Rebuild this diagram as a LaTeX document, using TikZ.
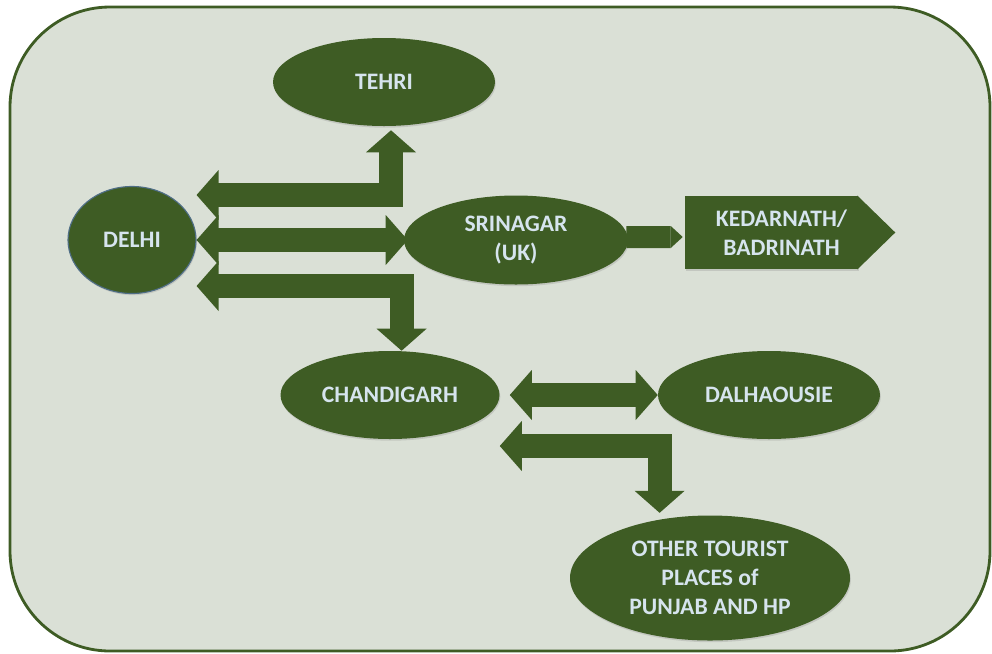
\documentclass[tikz,border=0pt]{standalone}
\usepackage{fontspec}
\setmainfont{Carlito}
\usetikzlibrary{arrows.meta,calc,shapes.geometric,shadows}
\definecolor{leaf}{HTML}{3E5C24}
\definecolor{paper}{HTML}{DAE0D6}
\definecolor{ink}{HTML}{D6E4EE}
\definecolor{rim}{HTML}{4F6E86}
\tikzset{
  label font/.style={font=\bfseries\fontsize{16.8}{20.6}\selectfont},
  place/.style={ellipse, fill=leaf, text=ink, label font, align=center, inner sep=0pt,
    drop shadow={opacity=0.25, shadow xshift=0.6pt, shadow yshift=-1.2pt}},
  link/.style={draw=leaf, line width=0.6cm, line join=miter,
    postaction={draw=leaf, line width=0.6cm, arrows=-, shorten <=0.5cm, shorten >=0.5cm}},
  >={Triangle[width=1.25cm,length=0.55cm,line width=0pt]},
}
\begin{document}
\begin{tikzpicture}
    \useasboundingbox (0,0) rectangle (24.8,-16.325);
    \draw[draw=leaf, line width=2pt, fill=paper, rounded corners=2.5cm] (0.25,-0.175) rectangle (24.75,-16.275); % fundo

    \node[place, minimum width=5.55cm, minimum height=2.2cm] (tehri) at (9.6,-2.05) {TEHRI};
    \node[place, minimum width=3.2cm, minimum height=2.675cm, draw=rim, line width=0.8pt] (delhi) at (3.3,-6.0) {DELHI};
    \node[place, minimum width=5.6cm, minimum height=2.225cm] (srinagar) at (12.9,-6.0) {SRINAGAR\\(UK)};
    \node[fill=leaf, text=ink, label font, align=center, minimum width=4.325cm, minimum height=1.825cm,
      drop shadow={opacity=0.25, shadow xshift=0.6pt, shadow yshift=-1.2pt}] (kedar) at (19.2875,-5.8125)
      {\hspace*{0.5cm}KEDARNATH/\\\hspace*{0.5cm}BADRINATH};
    \fill[leaf] ($(kedar.north east)+(-0.02,0)$) -- ($(kedar.east)+(0.925,0)$) -- ($(kedar.south east)+(-0.02,0)$) -- cycle; % ponta
    \node[place, minimum width=5.475cm, minimum height=2.2cm] (chandigarh) at (9.75,-9.875) {CHANDIGARH};
    \node[place, minimum width=5.55cm, minimum height=2.2cm] (dalhousie) at (19.225,-9.875) {DALHAOUSIE};
    \node[place, minimum width=7.0cm, minimum height=3.125cm] (other) at (17.75,-14.45) {OTHER TOURIST\\PLACES of\\PUNJAB AND HP};

    \draw[link, <->] ($(delhi.east)+(0,1.125)$) -| ($(tehri.south)+(0.175,-0.1)$); % Delhi - Tehri
    \draw[link, <->] (delhi.east) -- ($(srinagar.west)+(0.1,0)$); % Delhi - Srinagar
    \draw[link, <->] ($(delhi.east)+(0,-1.15)$) -| ($(chandigarh.north)+(0.29,0)$); % Delhi - Chandigarh
    \draw[link, <->] ($(chandigarh.east)+(0.25,0)$) -- (dalhousie.west); % Chandigarh - Dalhousie
    \draw[link, <->] ($(chandigarh.east)+(0,-1.275)$) -| ($(other.north)+(-1.26,0.06)$); % Chandigarh - outros
    \draw[draw=leaf, line width=0.55cm, -{Triangle[width=0.55cm,length=0.3cm,line width=0pt]}]
      ($(srinagar.east)+(-0.05,0.075)$) -- ($(kedar.west)+(-0.05,-0.1125)$); % Srinagar - Kedarnath
\end{tikzpicture}
\end{document}
